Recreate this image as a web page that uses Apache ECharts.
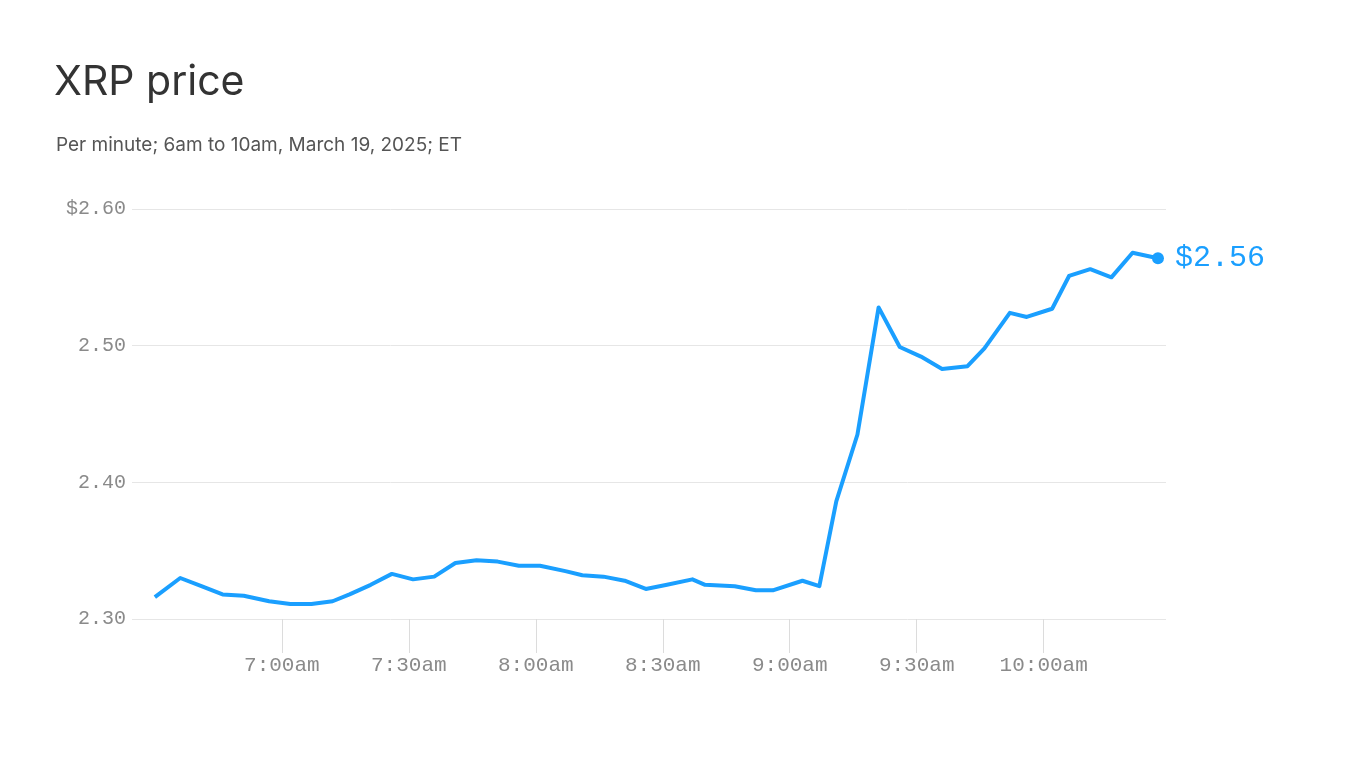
<!DOCTYPE html>
<html>
<head>
<meta charset="utf-8">
<script src="https://cdn.jsdelivr.net/npm/echarts@6/dist/echarts.min.js"></script>
<style>
html,body{margin:0;padding:0;background:#fff;}
#chart{width:1366px;height:768px;}
</style>
</head>
<body>
<div id="chart"></div>
<script>
// Times (ET) of each plotted point
var times = ['6:30','6:36','6:41','6:46','6:51','6:57','7:02','7:07','7:12','7:16','7:21','7:26',
  '7:31','7:36','7:41','7:46','7:51','7:56','8:01','8:07','8:11','8:16','8:21','8:26',
  '8:31','8:37','8:40','8:47','8:52','8:56','9:03','9:07','9:11','9:16','9:21','9:26',
  '9:31','9:36','9:42','9:46','9:52','9:56','10:02','10:06','10:11','10:16','10:21','10:27'];
// XRP price (USD)
var prices = [2.316,2.330,2.324,2.318,2.317,2.313,2.311,2.311,2.313,2.318,2.325,2.333,
  2.329,2.331,2.341,2.343,2.342,2.339,2.339,2.335,2.332,2.331,2.328,2.322,
  2.325,2.329,2.325,2.324,2.321,2.321,2.328,2.324,2.386,2.435,2.528,2.499,
  2.492,2.483,2.485,2.498,2.524,2.521,2.527,2.551,2.556,2.550,2.568,2.564];
// x-axis tick labels
var xTicks = ['7:00','7:30','8:00','8:30','9:00','9:30','10:00'];
// y-axis ticks
var yTicks = [2.30, 2.40, 2.50, 2.60];

function toMin(s){ var p = s.split(':'); return (+p[0])*60 + (+p[1]); }
function fmtTime(m){ var h = Math.floor(m/60), mm = Math.round(m%60); return h + ':' + (mm<10?'0':'') + mm + 'am'; }

var mono = 'Liberation Mono, DejaVu Sans Mono, monospace';
var blue = '#1a9fff';

var data = times.map(function(t,i){
  var item = { value: [toMin(t), prices[i]] };
  if (i === times.length - 1) {
    item.symbol = 'circle';
    item.symbolSize = 12;
    item.label = {
      show: true, position: 'right', distance: 11,
      formatter: function(p){ return '$' + p.value[1].toFixed(2); },
      color: blue, fontSize: 30, fontFamily: mono
    };
  }
  return item;
});

var tickVals = xTicks.map(toMin);

var chart = echarts.init(document.getElementById('chart'), null, {renderer:'canvas'});
chart.setOption({
  animation: false,
  backgroundColor: '#fff',
  title: [
    { text: 'XRP price', left: 49, top: 57,
      textStyle: { fontFamily: 'Inter, sans-serif', fontSize: 41, fontWeight: 'normal', color: '#333' } },
    { text: 'Per minute; 6am to 10am, March 19, 2025; ET', left: 51, top: 131,
      textStyle: { fontFamily: 'Inter, sans-serif', fontSize: 19, fontWeight: 'normal', color: '#555' } }
  ],
  grid: { left: 132, right: 200, top: 209, bottom: 149, containLabel: false },
  xAxis: {
    type: 'value',
    min: 384.6, max: 628.9,
    axisLine: { show: false },
    splitLine: { show: false },
    axisTick: { show: true, customValues: tickVals, length: 34, lineStyle: { color: '#dcdcdc', width: 1 } },
    axisLabel: { customValues: tickVals, margin: 36, formatter: function(v){ return fmtTime(v); },
      color: '#8a8a8a', fontSize: 21, fontFamily: mono }
  },
  yAxis: {
    type: 'value',
    min: 2.30, max: 2.60, interval: 0.1,
    axisLine: { show: false },
    axisTick: { show: false },
    splitLine: { lineStyle: { color: '#e6e6e6', width: 1 } },
    axisLabel: { margin: 6, color: '#8a8a8a', fontSize: 20, fontFamily: mono, verticalAlign: 'middle', padding: [3,0,0,0],
      formatter: function(v){ var s = v.toFixed(2); return Math.abs(v - yTicks[yTicks.length-1]) < 1e-6 ? '$' + s : s; } }
  },
  series: [{
    type: 'line',
    data: data,
    showSymbol: true,
    symbol: 'none',
    lineStyle: { color: blue, width: 4, join: 'round' },
    itemStyle: { color: blue },
    emphasis: { disabled: true }
  }]
});
</script>
</body>
</html>
